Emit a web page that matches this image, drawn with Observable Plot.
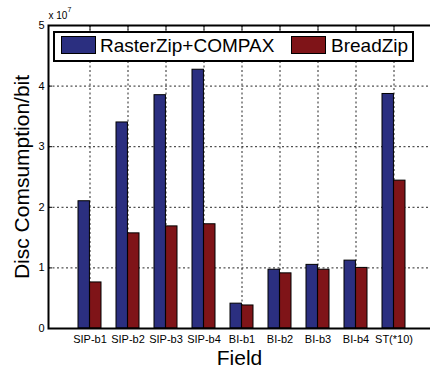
<!DOCTYPE html>
<html>
<head>
<meta charset="utf-8">
<script src="https://cdn.jsdelivr.net/npm/d3@7"></script>
<script src="https://cdn.jsdelivr.net/npm/@observablehq/plot@0.6"></script>
<style>
  html, body { margin: 0; padding: 0; background: #fff; }
  #wrap { position: relative; width: 430px; height: 369px; overflow: hidden; font-family: "Liberation Sans", Arial, sans-serif; }
  #legend { position: absolute; left: 53px; top: 31px; width: 361px; height: 31px; box-sizing: border-box;
    border: 2px solid #000; background: #fff; font-size: 19px; color: #000; }
  .sw { position: absolute; top: 3px; width: 35px; height: 18px; border: 1px solid #000; box-sizing: border-box; }
  .lt { position: absolute; top: 2px; line-height: 22px; white-space: nowrap; }
  #ylab { position: absolute; left: 21px; top: 177px; width: 0; height: 0; }
  #ylab span { position: absolute; transform: translate(-50%, -50%) rotate(-90deg); white-space: nowrap;
    font-size: 21px; line-height: 21px; color: #000; left: 0; top: 0; }
</style>
</head>
<body>
<div id="wrap"></div>
<script>
const fields = ["SIP-b1", "SIP-b2", "SIP-b3", "SIP-b4", "BI-b1", "BI-b2", "BI-b3", "BI-b4", "ST(*10)"];
const rasterZip = [2.10, 3.40, 3.85, 4.27, 0.41, 0.97, 1.05, 1.12, 3.87];
const breadZip  = [0.76, 1.57, 1.685, 1.72, 0.38, 0.91, 0.97, 1.00, 2.44];
const seriesNames = ["RasterZip+COMPAX", "BreadZip"];
const seriesColors = ["#2b2f80", "#7f1418"];
const yTicks = [0, 1, 2, 3, 4, 5];
const yLabel = "Disc Comsumption/bit";
const xLabel = "Field";

const rowsA = fields.map((f, i) => ({field: f, value: rasterZip[i]}));
const rowsB = fields.map((f, i) => ({field: f, value: breadZip[i]}));

const W = 430, H = 369;
const xRange = [48, 434];
const pIn = 0.4, pOut = 0.7;
const step = (xRange[1] - xRange[0]) / (fields.length - pIn + 2 * pOut);
const half = step * (1 - pIn) / 2;
const font = "Liberation Sans, Arial, sans-serif";

const chart = Plot.plot({
  width: W,
  height: H,
  marginLeft: 48,
  marginRight: 0,
  marginTop: 25,
  marginBottom: 41,
  style: {fontFamily: font, fontSize: "11px", color: "#000", background: "#fff", overflow: "hidden"},
  x: {type: "band", domain: fields, range: xRange, paddingInner: pIn, paddingOuter: pOut},
  y: {domain: [0, 5], range: [328, 25]},
  marks: [
    Plot.gridX(fields, {stroke: "#000", strokeOpacity: 0.85, strokeWidth: 1, strokeDasharray: "2,2.5"}),
    Plot.gridY([1, 2, 3, 4], {stroke: "#000", strokeOpacity: 0.85, strokeWidth: 1, strokeDasharray: "2,2.5"}),
    Plot.barY(rowsA, {x: "field", y: "value", fill: seriesColors[0], stroke: "#000", strokeWidth: 1, insetRight: half}),
    Plot.barY(rowsB, {x: "field", y: "value", fill: seriesColors[1], stroke: "#000", strokeWidth: 1, insetLeft: half}),
    Plot.axisY(yTicks, {anchor: "left", tickSize: -4, tickPadding: 8, tickFormat: d3.format("d"), fontSize: 11, label: null, strokeWidth: 1}),
    Plot.axisX(fields, {anchor: "bottom", tickSize: 0, tickPadding: 7, fontSize: 11, label: null}),
    Plot.axisX(fields, {anchor: "top", tickSize: -4, tickFormat: () => "", label: null, strokeWidth: 1}),
    Plot.frame({stroke: "#000", strokeWidth: 2, insetRight: -8}),
    Plot.text([xLabel], {frameAnchor: "bottom", dy: 30, lineAnchor: "middle", fontSize: 21, fill: "#000"}),
    Plot.text(["x 10"], {frameAnchor: "top-left", dx: 0, dy: -10, textAnchor: "start", lineAnchor: "middle", fontSize: 10, fill: "#000"}),
    Plot.text(["7"], {frameAnchor: "top-left", dx: 19, dy: -16, textAnchor: "start", lineAnchor: "middle", fontSize: 7, fill: "#000"})
  ]
});

const wrap = document.getElementById("wrap");
wrap.appendChild(chart);

const yl = document.createElement("div");
yl.id = "ylab";
const ys = document.createElement("span");
ys.textContent = yLabel;
yl.appendChild(ys);
wrap.appendChild(yl);

const legend = document.createElement("div");
legend.id = "legend";
const lx = [[6, 45], [236, 276]];
seriesNames.forEach((name, i) => {
  const sw = document.createElement("div");
  sw.className = "sw";
  sw.style.left = lx[i][0] + "px";
  sw.style.background = seriesColors[i];
  legend.appendChild(sw);
  const t = document.createElement("div");
  t.className = "lt";
  t.style.left = lx[i][1] + "px";
  t.textContent = name;
  legend.appendChild(t);
});
wrap.appendChild(legend);
</script>
</body>
</html>
